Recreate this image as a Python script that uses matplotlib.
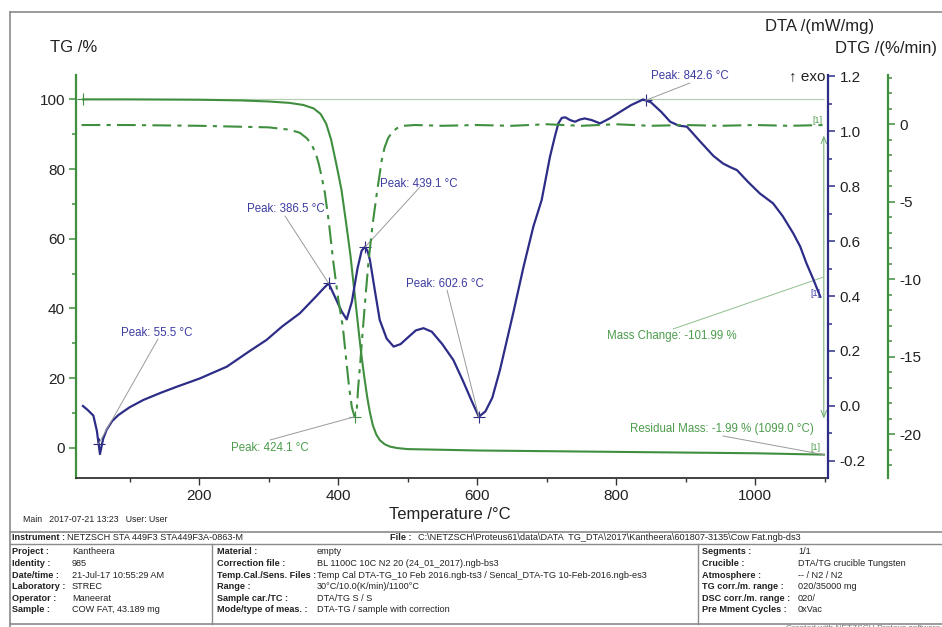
import numpy as np
import matplotlib
matplotlib.use('Agg')
import matplotlib.pyplot as plt
from matplotlib.ticker import MultipleLocator, FormatStrFormatter
from matplotlib.lines import Line2D

plt.rcParams['font.family'] = ['Liberation Sans', 'DejaVu Sans']
plt.rcParams['axes.unicode_minus'] = False

# TG /%  (temperature in degC)
tg_t = [33, 100, 200, 260, 300, 330, 350, 365, 375, 383, 390, 398, 405, 412, 418,
        424, 430, 434, 438, 442, 446, 450, 455, 460, 467, 475, 485, 500, 550, 600,
        700, 800, 900, 1000, 1050, 1099]
tg_v = [100.0, 100.0, 99.9, 99.7, 99.4, 99.0, 98.4, 97.4, 95.8, 93.0, 88.5, 81.0,
        74.0, 64.0, 55.0, 44.0, 33.0, 26.0, 20.0, 14.5, 10.0, 6.5, 3.8, 2.2, 1.0,
        0.3, -0.1, -0.4, -0.6, -0.8, -1.0, -1.2, -1.4, -1.6, -1.8, -1.99]

# DTG /(%/min)
dtg_t = [31, 100, 200, 300, 330, 345, 355, 362, 368, 372, 376, 381, 387, 393, 400,
         407, 412, 416, 420, 424, 427, 429, 432, 436, 440, 444, 450, 456, 460, 463,
         467, 472, 478, 485, 495, 510, 550, 600, 650, 700, 750, 800, 850, 900, 950,
         1000, 1050, 1099]
dtg_v = [-0.05, -0.05, -0.1, -0.2, -0.35, -0.55, -0.9, -1.3, -1.9, -2.5, -3.3, -4.4,
         -6.4, -8.8, -11.2, -13.1, -15.3, -17.0, -18.3, -18.9, -18.4, -17.0, -15.4,
         -13.1, -10.9, -8.8, -6.4, -4.4, -3.2, -2.3, -1.5, -0.9, -0.5, -0.25, -0.1,
         -0.05, -0.1, -0.05, -0.1, 0.0, -0.1, 0.0, -0.1, -0.05, -0.1, -0.05, -0.1, -0.05]

# DTA /(mW/mg)
dta_t = [33, 40, 48, 53, 57.5, 62, 67, 75, 84, 100, 120, 145, 168, 201, 240, 273,
         297, 320, 345, 369, 380, 386.5, 395, 405, 412.5, 420, 428, 434, 439, 443,
         446, 453, 460, 470, 480, 490, 500, 512, 523, 535, 550, 566, 580, 592, 602.6,
         612, 622, 633, 652, 667, 681, 693, 705, 712, 717, 722, 727, 734, 741, 748,
         755, 765, 777, 790, 806, 822, 839, 850, 865, 878, 890, 902, 920, 940, 954,
         965, 974, 990, 1007, 1026, 1040, 1055, 1065, 1074, 1084, 1094]
dta_v = [0.0, -0.015, -0.035, -0.09, -0.175, -0.12, -0.087, -0.055, -0.033, -0.005,
         0.022, 0.048, 0.07, 0.10, 0.143, 0.20, 0.24, 0.29, 0.337, 0.40, 0.43, 0.446,
         0.40, 0.345, 0.315, 0.38, 0.50, 0.565, 0.579, 0.56, 0.53, 0.42, 0.313, 0.245,
         0.216, 0.225, 0.248, 0.275, 0.283, 0.27, 0.225, 0.167, 0.09, 0.02, -0.039,
         -0.02, 0.03, 0.131, 0.337, 0.507, 0.652, 0.749, 0.907, 0.98, 1.028, 1.048,
         1.05, 1.04, 1.034, 1.042, 1.046, 1.04, 1.028, 1.045, 1.07, 1.095, 1.115,
         1.105, 1.07, 1.034, 1.02, 1.016, 0.965, 0.91, 0.882, 0.868, 0.858, 0.815,
         0.773, 0.737, 0.69, 0.628, 0.58, 0.519, 0.46, 0.397]

dta_peaks = [55.5, 386.5, 439.1, 602.6, 842.6]
dtg_peak = 424.1
mass_change = -101.99
residual = -1.99

info_left = [('Project :', 'Kantheera'), ('Identity :', '985'),
             ('Date/time :', '21-Jul-17 10:55:29 AM'), ('Laboratory :', 'STREC'),
             ('Operator :', 'Maneerat'), ('Sample :', 'COW FAT, 43.189 mg')]
info_mid = [('Material :', 'empty'),
            ('Correction file :', 'BL 1100C 10C N2 20 (24_01_2017).ngb-bs3'),
            ('Temp.Cal./Sens. Files :', 'Temp Cal DTA-TG_10 Feb 2016.ngb-ts3 / Sencal_DTA-TG 10-Feb-2016.ngb-es3'),
            ('Range :', '30°C/10.0(K/min)/1100°C'),
            ('Sample car./TC :', 'DTA/TG S / S'),
            ('Mode/type of meas. :', 'DTA-TG / sample with correction')]
info_right = [('Segments :', '1/1'), ('Crucible :', 'DTA/TG crucible Tungsten'),
              ('Atmosphere :', '-- / N2 / N2'), ('TG corr./m. range :', '020/35000 mg'),
              ('DSC corr./m. range :', '020/'), ('Pre Mment Cycles :', '0xVac')]

W, H = 942, 627
def fx(x):
    return x / W
def fy(y):
    return 1 - y / H
def px(x, y):
    return (fx(x), fy(y))

GREEN = '#3f8f3f'
GREEN_TXT = '#4c9c4c'
BLUE = '#2d2d88'
BLUE_TXT = '#3c3ca2'
GRAY = '#9a9a9a'
TXT = '#222222'

fig = plt.figure(figsize=(W / 100, H / 100), dpi=100)

# TG axis
ax = fig.add_axes([fx(76), fy(478), (828 - 76) / W, (478 - 75) / H])
ax.set_xlim(23, 1105)
ax.set_ylim(-8.7, 107)
ax.patch.set_visible(False)
for s in ['top', 'right']:
    ax.spines[s].set_visible(False)
ax.spines['left'].set_color(GREEN)
ax.spines['left'].set_linewidth(1.6)
ax.spines['bottom'].set_color('#333333')
ax.spines['bottom'].set_linewidth(1.3)
ax.xaxis.set_major_locator(MultipleLocator(200))
ax.xaxis.set_minor_locator(MultipleLocator(100))
ax.yaxis.set_major_locator(MultipleLocator(20))
ax.yaxis.set_minor_locator(MultipleLocator(10))
ax.tick_params(axis='x', which='major', length=5, width=1, labelsize=11, pad=3,
               color='#333333', labelcolor=TXT)
ax.tick_params(axis='x', which='minor', length=3, width=1, color='#333333')
ax.tick_params(axis='y', which='major', length=5, width=1.1, labelsize=11, pad=3,
               color=GREEN, labelcolor=TXT)
ax.tick_params(axis='y', which='minor', length=3, width=1.1, color=GREEN)

# DTA axis
ax2 = ax.twinx()
ax2.set_ylim(-0.262, 1.204)
for s in ['top', 'left', 'bottom']:
    ax2.spines[s].set_visible(False)
ax2.spines['right'].set_color(BLUE)
ax2.spines['right'].set_linewidth(1.6)
ax2.set_yticks(np.arange(-0.2, 1.21, 0.2).round(1))
ax2.yaxis.set_minor_locator(MultipleLocator(0.1))
ax2.yaxis.set_major_formatter(FormatStrFormatter('%.1f'))
ax2.tick_params(axis='y', which='major', length=5, width=1.1, labelsize=11, pad=3.5,
                color=BLUE, labelcolor=TXT)
ax2.tick_params(axis='y', which='minor', length=3, width=1.1, color=BLUE)

# DTG axis
ax3 = ax.twinx()
ax3.set_ylim(-22.84, 3.18)
for s in ['top', 'left', 'bottom']:
    ax3.spines[s].set_visible(False)
ax3.spines['right'].set_position(('outward', 43.2))
ax3.spines['right'].set_color(GREEN)
ax3.spines['right'].set_linewidth(1.6)
ax3.set_yticks([0, -5, -10, -15, -20])
ax3.yaxis.set_minor_locator(MultipleLocator(1))
ax3.tick_params(axis='y', which='major', length=5, width=1.1, labelsize=11, pad=3.5,
                color=GREEN, labelcolor=TXT)
ax3.tick_params(axis='y', which='minor', length=3, width=1.1, color=GREEN)

# curves
ax.hlines(tg_v[0], tg_t[0], tg_t[-1], color='#b2cfb2', lw=0.9)
ax.plot(tg_t, tg_v, color=GREEN, lw=1.5)
ax.plot(tg_t[0], tg_v[0], marker='+', ms=8, mew=0.8, color=GREEN)
ax3.plot(dtg_t, dtg_v, color=GREEN, lw=1.5, ls=(0, (9, 3, 2, 3)))
ax2.plot(dta_t, dta_v, color=BLUE, lw=1.6)

# mass change arrow
tg_mid = (tg_v[0] + tg_v[-1]) / 2
ax.annotate('', xy=(tg_t[-1], tg_v[-1]), xytext=(tg_t[-1], tg_v[0]),
            arrowprops=dict(arrowstyle='<->,head_length=0.5,head_width=0.2',
                            color='#6aaa6a', lw=0.7, shrinkA=26, shrinkB=26))

# axis titles
fig.text(fx(50), fy(47), 'TG /%', fontsize=12, va='center', ha='left', color=TXT)
fig.text(fx(765), fy(27), 'DTA /(mW/mg)', fontsize=12, va='center', ha='left', color=TXT)
fig.text(fx(835), fy(48), 'DTG /(%/min)', fontsize=12, va='center', ha='left', color=TXT)
fig.text(fx(450), fy(514), 'Temperature /°C', fontsize=12, va='center', ha='center', color=TXT)
fig.text(fx(825), fy(76), '↑ exo', fontsize=11, va='center', ha='right', color=TXT)

# DTA peak labels
peak_text = [(157, 333, 158, 339), (286, 209, 285, 216), (419, 184, 420, 187),
             (445, 284, 447, 290), (690, 76, 690, 83)]
for T, (tx, ty, lx, ly) in zip(dta_peaks, peak_text):
    v = np.interp(T, dta_t, dta_v)
    ax2.plot(T, v, marker='+', ms=8, mew=0.8, color=BLUE)
    ax2.annotate('', xy=(T, v), xytext=px(lx, ly), textcoords='figure fraction',
                 arrowprops=dict(arrowstyle='-', color=GRAY, lw=0.7, shrinkA=0, shrinkB=0))
    fig.text(fx(tx), fy(ty), 'Peak: %.1f °C' % T, fontsize=8.3, color=BLUE_TXT,
             ha='center', va='center')

# DTG peak label
v = np.interp(dtg_peak, dtg_t, dtg_v)
ax3.plot(dtg_peak, v, marker='+', ms=8, mew=0.8, color=GREEN)
ax3.annotate('', xy=(dtg_peak, v), xytext=px(270, 440), textcoords='figure fraction',
             arrowprops=dict(arrowstyle='-', color=GRAY, lw=0.7, shrinkA=0, shrinkB=0))
fig.text(fx(270), fy(448), 'Peak: %.1f °C' % dtg_peak, fontsize=8.3, color=GREEN_TXT,
         ha='center', va='center')

# mass change / residual
ax.annotate('', xy=(tg_t[-1], tg_mid), xytext=px(673, 329), textcoords='figure fraction',
            arrowprops=dict(arrowstyle='-', color='#8fbf8f', lw=0.7, shrinkA=0, shrinkB=0))
fig.text(fx(672), fy(336), 'Mass Change: %.2f %%' % mass_change, fontsize=8.3,
         color=GREEN_TXT, ha='center', va='center')
ax.annotate('', xy=(tg_t[-1], tg_v[-1]), xytext=px(723, 436), textcoords='figure fraction',
            arrowprops=dict(arrowstyle='-', color=GRAY, lw=0.7, shrinkA=0, shrinkB=0))
fig.text(fx(722), fy(429), 'Residual Mass: %.2f %% (%.1f °C)' % (residual, tg_t[-1]),
         fontsize=8.3, color=GREEN_TXT, ha='center', va='center')

# segment markers
fig.text(fx(817), fy(121), '[1]', fontsize=6.5, color=GREEN_TXT, ha='center', va='center')
fig.text(fx(815), fy(293), '[1]', fontsize=6.5, color=BLUE_TXT, ha='center', va='center')
fig.text(fx(815), fy(447), '[1]', fontsize=6.5, color=GREEN_TXT, ha='center', va='center')

# outer frame and table
LC = '#8a8a8a'
def hline(y, x0=10, x1=942, lw=1.0):
    fig.add_artist(Line2D([fx(x0), fx(x1)], [fy(y), fy(y)], color=LC, lw=lw,
                          transform=fig.transFigure))
def vline(x, y0, y1, lw=1.0):
    fig.add_artist(Line2D([fx(x), fx(x)], [fy(y0), fy(y1)], color=LC, lw=lw,
                          transform=fig.transFigure))

hline(12, lw=1.2)
vline(10, 12, 627, lw=1.2)
hline(531.5, lw=1.2)
hline(543.5)
hline(623.5, lw=1.2)
vline(212, 543.5, 623.5)
vline(698, 543.5, 623.5)

fs = 6.6
fig.text(fx(23), fy(520), 'Main   2017-07-21 13:23   User: User', fontsize=6.3,
         color=TXT, va='center')
fig.text(fx(12), fy(538), 'Instrument :', fontsize=fs, weight='bold', color=TXT, va='center')
fig.text(fx(67), fy(538), 'NETZSCH STA 449F3 STA449F3A-0863-M', fontsize=fs, color=TXT, va='center')
fig.text(fx(390), fy(538), 'File :', fontsize=fs, weight='bold', color=TXT, va='center')
fig.text(fx(418), fy(538),
         r'C:\NETZSCH\Proteus61\data\DATA  TG_DTA\2017\Kantheera\601807-3135\Cow Fat.ngb-ds3',
         fontsize=fs, color=TXT, va='center')

row_y = [551.7, 563.3, 575.0, 586.7, 598.3, 610.0]
for rows, xl, xv in [(info_left, 12, 72), (info_mid, 217, 317), (info_right, 702, 798)]:
    for (lab, val), y in zip(rows, row_y):
        fig.text(fx(xl), fy(y), lab, fontsize=fs, weight='bold', color=TXT, va='center')
        fig.text(fx(xv), fy(y), val, fontsize=fs, color=TXT, va='center')

fig.text(fx(940), fy(628), 'Created with NETZSCH Proteus software', fontsize=6,
         color='#777777', ha='right', va='center')

fig.savefig('out.png', dpi=100)
